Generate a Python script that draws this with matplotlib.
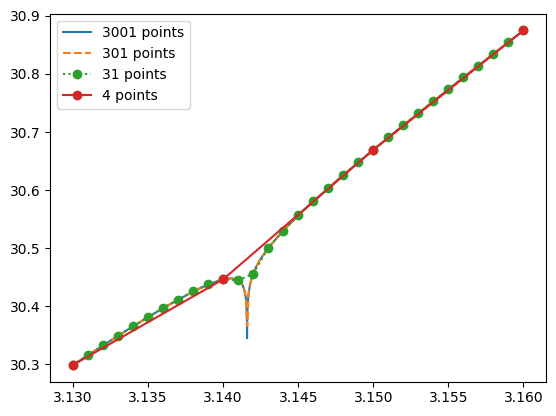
import matplotlib
matplotlib.use("Agg")
import matplotlib.pyplot as plt

# 31-point sample
x31 = [3.130, 3.131, 3.132, 3.133, 3.134, 3.135, 3.136, 3.137, 3.138, 3.139,
       3.140, 3.141, 3.142, 3.143, 3.144, 3.145, 3.146, 3.147, 3.148, 3.149,
       3.150, 3.151, 3.152, 3.153, 3.154, 3.155, 3.156, 3.157, 3.158, 3.159, 3.160]
y31 = [30.2992, 30.3161, 30.3329, 30.3494, 30.3657, 30.3816, 30.3970, 30.4118, 30.4256, 30.4377,
       30.4465, 30.4451, 30.4562, 30.5005, 30.5304, 30.5564, 30.5806, 30.6036, 30.6260, 30.6479,
       30.6694, 30.6906, 30.7116, 30.7324, 30.7530, 30.7735, 30.7939, 30.8143, 30.8345, 30.8547, 30.8748]

# 301-point curve (read values, dense only near the dip)
x301 = [3.130, 3.132, 3.134, 3.136, 3.138, 3.139, 3.140, 3.1405, 3.1407, 3.1410,
        3.1412, 3.1413, 3.1414, 3.1415, 3.1416, 3.1417, 3.1418, 3.1419, 3.1420,
        3.1422, 3.1425, 3.143, 3.144, 3.145, 3.146, 3.148, 3.150, 3.152, 3.154,
        3.156, 3.158, 3.160]
y301 = [30.2992, 30.3329, 30.3657, 30.3970, 30.4256, 30.4377, 30.4465, 30.4482, 30.4478, 30.4451,
        30.4404, 30.4362, 30.4295, 30.4164, 30.3662, 30.4232, 30.4386, 30.4486, 30.4562,
        30.4682, 30.4821, 30.5005, 30.5304, 30.5564, 30.5806, 30.6260, 30.6694, 30.7116, 30.7530,
        30.7939, 30.8345, 30.8748]

# 3001-point curve
x3001 = [3.130, 3.132, 3.134, 3.136, 3.138, 3.139, 3.140, 3.1405, 3.1407, 3.1410,
         3.1412, 3.1413, 3.1414, 3.1415, 3.14155, 3.14158, 3.14159, 3.14160, 3.14162,
         3.14165, 3.1417, 3.1418, 3.1419, 3.1420, 3.1422, 3.1425, 3.143, 3.144, 3.145,
         3.146, 3.148, 3.150, 3.152, 3.154, 3.156, 3.158, 3.160]
y3001 = [30.2992, 30.3329, 30.3657, 30.3970, 30.4256, 30.4377, 30.4465, 30.4482, 30.4478, 30.4451,
         30.4404, 30.4362, 30.4295, 30.4164, 30.4014, 30.3770, 30.3451, 30.3662, 30.3936,
         30.4094, 30.4232, 30.4386, 30.4486, 30.4562, 30.4682, 30.4821, 30.5005, 30.5304, 30.5564,
         30.5806, 30.6260, 30.6694, 30.7116, 30.7530, 30.7939, 30.8345, 30.8748]

# 4-point sample
x4 = [3.13, 3.14, 3.15, 3.16]
y4 = [30.2992, 30.4465, 30.6694, 30.8748]

fig = plt.figure(figsize=(5.56, 4.16), dpi=100)
ax = fig.add_axes([0.0908, 0.0825, 0.982 - 0.0908, 0.967 - 0.0825])
ax.plot(x3001, y3001, '-', label='3001 points')
ax.plot(x301, y301, '--', label='301 points')
ax.plot(x31, y31, 'o:', label='31 points')
ax.plot(x4, y4, 'o-', label='4 points')
ax.legend(loc='upper left')
fig.savefig('out.png', dpi=100)
